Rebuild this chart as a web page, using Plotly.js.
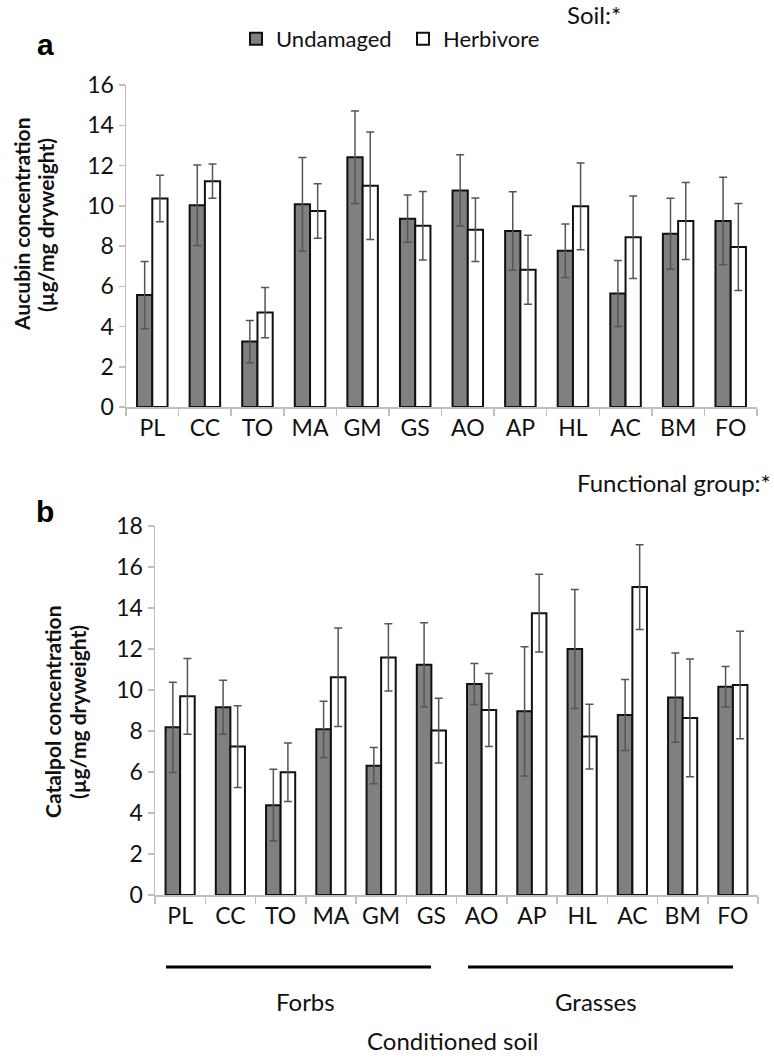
<!DOCTYPE html>
<html>
<head>
<meta charset="utf-8">
<script src="https://cdn.plot.ly/plotly-3.0.1.min.js"></script>
<style>
  body { margin: 0; background: #fff; }
  #chart { width: 774px; height: 1058px; }
</style>
</head>
<body>
<div id="chart"></div>
<script>
/*
! Data
*/
var soils = ['PL', 'CC', 'TO', 'MA', 'GM', 'GS', 'AO', 'AP', 'HL', 'AC', 'BM', 'FO'];

// a: aucubin
var aucUndamaged = [5.56, 10.03, 3.25, 10.07, 12.41, 9.36, 10.76, 8.75, 7.76, 5.64, 8.61, 9.24];
var aucUndamagedErr = [1.67, 2.0, 1.05, 2.33, 2.3, 1.17, 1.77, 1.95, 1.33, 1.64, 1.76, 2.17];
var aucHerbivore = [10.36, 11.22, 4.69, 9.74, 10.99, 9.01, 8.81, 6.82, 9.97, 8.43, 9.24, 7.95];
var aucHerbivoreErr = [1.15, 0.85, 1.25, 1.35, 2.67, 1.7, 1.58, 1.71, 2.16, 2.05, 1.91, 2.16];

// b: catalpol
var catUndamaged = [8.18, 9.16, 4.38, 8.08, 6.31, 11.23, 10.29, 8.96, 12.0, 8.78, 9.63, 10.16];
var catUndamagedErr = [2.2, 1.32, 1.75, 1.37, 0.88, 2.05, 1.0, 3.15, 2.9, 1.73, 2.18, 0.99];
var catHerbivore = [9.69, 7.24, 5.99, 10.62, 11.59, 8.02, 9.03, 13.75, 7.73, 15.02, 8.64, 10.24];
var catHerbivoreErr = [1.85, 1.99, 1.43, 2.4, 1.64, 1.58, 1.78, 1.9, 1.58, 2.07, 2.87, 2.62];

/*
! Styles
*/
var font = 'Lato, "Open Sans", sans-serif';
var axisGrey = '#bfbfbf';
var errGrey = '#555555';

function bar(y, err, name, fill, xa, ya, legend) {
  return {
    type: 'bar',
    x: soils,
    y: y,
    name: name,
    xaxis: xa,
    yaxis: ya,
    showlegend: legend,
    marker: { color: fill, line: { color: '#111', width: 2 } },
    error_y: { type: 'data', array: err, visible: true, color: errGrey, thickness: 1.5, width: 4 }
  };
}

var data = [
  bar(aucUndamaged, aucUndamagedErr, 'Undamaged', '#808080', 'x', 'y', true),
  bar(aucHerbivore, aucHerbivoreErr, 'Herbivore', '#ffffff', 'x', 'y', true),
  bar(catUndamaged, catUndamagedErr, 'Undamaged', '#808080', 'x2', 'y2', false),
  bar(catHerbivore, catHerbivoreErr, 'Herbivore', '#ffffff', 'x2', 'y2', false)
];

var xStyle = {
  type: 'category',
  showline: true, linecolor: axisGrey, linewidth: 1.5,
  ticks: 'outside', tickson: 'boundaries', ticklen: 7, tickcolor: axisGrey, tickwidth: 1.5,
  showgrid: false, zeroline: false,
  tickfont: { family: font, size: 23, color: '#111' }
};
function yStyle(top, dtick) {
  return {
    range: [0, top], dtick: dtick,
    showline: true, linecolor: axisGrey, linewidth: 1.5,
    ticks: 'outside', ticklen: 6, tickcolor: axisGrey, tickwidth: 1.5,
    showgrid: false, zeroline: false,
    tickfont: { family: font, size: 23, color: '#111' }
  };
}

function label(text, x, y, size, opts) {
  var a = {
    text: text, xref: 'paper', yref: 'paper', x: x / 774, y: 1 - y / 1058,
    showarrow: false, xanchor: 'center', yanchor: 'middle',
    font: { family: font, size: size, color: '#111' }
  };
  for (var k in opts) a[k] = opts[k];
  return a;
}

var bold = { family: 'Liberation Sans, Arial', size: 30, color: '#000' };

var layout = {
  width: 774,
  height: 1058,
  margin: { l: 0, r: 0, t: 0, b: 0 },
  paper_bgcolor: '#fff',
  plot_bgcolor: '#fff',
  barmode: 'group',
  bargap: 0.42,
  bargroupgap: 0,
  xaxis: Object.assign({ domain: [126 / 774, 757 / 774], anchor: 'y' }, xStyle),
  yaxis: Object.assign({ domain: [1 - 407 / 1058, 1 - 85 / 1058], anchor: 'x' }, yStyle(16, 2)),
  xaxis2: Object.assign({ domain: [155 / 774, 758 / 774], anchor: 'y2' }, xStyle),
  yaxis2: Object.assign({ domain: [1 - 895 / 1058, 1 - 526 / 1058], anchor: 'x2' }, yStyle(18, 2)),
  legend: {
    orientation: 'h', x: 236 / 774, y: 1 - 18 / 1058, xanchor: 'left', yanchor: 'top',
    font: { family: font, size: 22, color: '#111' },
    itemwidth: 30, entrywidth: 122, entrywidthmode: 'pixels',
    traceorder: 'normal', bgcolor: 'rgba(0,0,0,0)'
  },
  annotations: [
    label('<b>a</b>', 45, 45, 30, { font: bold }),
    label('<b>b</b>', 45, 512, 30, { font: bold }),
    label('Soil:*', 594, 14, 24),
    label('Functional group:*', 773, 482, 24, { xanchor: 'right' }),
    label('<b>Aucubin concentration</b>', 21, 225, 21, { textangle: -90 }),
    label('<b>(µg/mg dryweight)</b>', 45, 225, 21, { textangle: -90 }),
    label('<b>Catalpol concentration</b>', 52, 712, 21, { textangle: -90 }),
    label('<b>(µg/mg dryweight)</b>', 77, 712, 21, { textangle: -90 }),
    label('Forbs', 305, 1001, 24),
    label('Grasses', 596, 1001, 24),
    label('Conditioned soil', 452, 1040, 24)
  ],
  shapes: [
    { type: 'line', xref: 'paper', yref: 'paper', x0: 166 / 774, x1: 431 / 774, y0: 1 - 967 / 1058, y1: 1 - 967 / 1058, line: { color: '#000', width: 3 } },
    { type: 'line', xref: 'paper', yref: 'paper', x0: 468 / 774, x1: 733 / 774, y0: 1 - 967 / 1058, y1: 1 - 967 / 1058, line: { color: '#000', width: 3 } }
  ]
};

Plotly.newPlot('chart', data, layout, { staticPlot: true });
</script>
</body>
</html>
